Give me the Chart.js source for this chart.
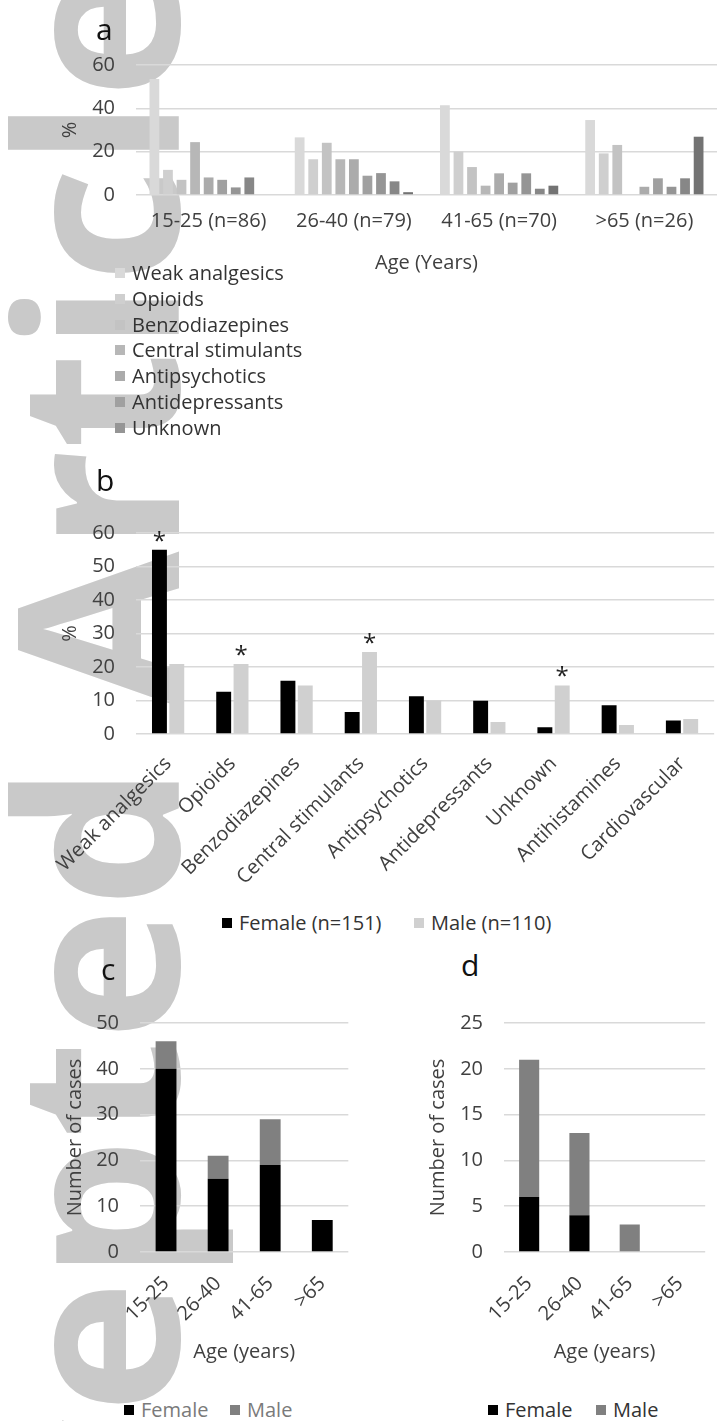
<!DOCTYPE html>
<html>
<head>
<meta charset="utf-8">
<script src="https://cdn.jsdelivr.net/npm/chart.js@4.4.1/dist/chart.umd.min.js"></script>
<style>
  html, body { margin: 0; padding: 0; background: #fff; }
  body { position: relative; width: 717px; height: 1421px; overflow: hidden; font-family: 'Open Sans', sans-serif; }
  .wm { position: absolute; left: -20px; top: 1800px; transform-origin: 0 0; transform: rotate(-90deg);
        font-size: 225px; font-weight: 700; line-height: 1; color: #c9c9c9; white-space: nowrap; z-index: 0; }
  canvas { position: absolute; z-index: 1; }
  .panel { position: absolute; z-index: 2; font-size: 30px; line-height: 30px; color: #111; }
  .leg { position: absolute; z-index: 2; font-size: 20px; line-height: 24px; color: #333; white-space: nowrap; }
  .leg i { position: absolute; left: 0; top: 7px; width: 10px; height: 10px; }
</style>
</head>
<body>
<div class="wm">Accepted Article</div>

<canvas id="chartA" style="left:0;top:0" width="717" height="280"></canvas>
<canvas id="chartB" style="left:0;top:500px" width="717" height="400"></canvas>
<canvas id="chartC" style="left:0;top:990px" width="360" height="380"></canvas>
<canvas id="chartD" style="left:360px;top:990px" width="357" height="380"></canvas>

<div class="panel" style="left:96px;top:14px">a</div>
<div class="panel" style="left:96px;top:465px">b</div>
<div class="panel" style="left:101px;top:954px">c</div>
<div class="panel" style="left:461px;top:950px">d</div>

<script>
// ---- panel a: drug class by age group (%)
const ageGroupsA = ['15-25 (n=86)', '26-40 (n=79)', '41-65 (n=70)', '>65 (n=26)'];
const drugClasses = ['Weak analgesics', 'Opioids', 'Benzodiazepines', 'Central stimulants', 'Antipsychotics',
                     'Antidepressants', 'Unknown', 'Antihistamines', 'Cardiovascular'];
const drugShades = ['#d9d9d9', '#cfcfcf', '#c3c3c3', '#b7b7b7', '#ababab', '#a0a0a0', '#959595', '#878787', '#737373'];
const pct15to25 = [53.5, 11.6, 7.0, 24.4, 8.1, 7.0, 3.5, 8.1, 0];
const pct26to40 = [26.6, 16.5, 24.1, 16.5, 16.5, 8.9, 10.1, 6.3, 1.3];
const pct41to65 = [41.4, 20.0, 12.9, 4.3, 10.0, 5.7, 10.0, 2.9, 4.3];
const pctOver65 = [34.6, 19.2, 23.1, 0, 3.8, 7.7, 3.8, 7.7, 26.9];
const legendCountA = 7; // legend in the figure is cut after "Unknown"

// ---- panel b: drug class by sex (%)
const femaleLabel = 'Female (n=151)';
const maleLabel = 'Male (n=110)';
const femalePct = [55.0, 12.6, 15.9, 6.6, 11.3, 9.9, 2.0, 8.6, 4.0];
const malePct = [20.9, 20.9, 14.5, 24.5, 10.0, 3.6, 14.5, 2.7, 4.5];
const starFemale = [true, false, false, false, false, false, false, false, false];
const starMale = [false, true, false, true, false, false, true, false, false];

// ---- panels c and d: number of cases by age
const ageGroupsCD = ['15-25', '26-40', '41-65', '>65'];
const casesFemaleC = [40, 16, 19, 7];
const casesMaleC = [6, 5, 10, 0];
const casesFemaleD = [6, 4, 0, 0];
const casesMaleD = [15, 9, 3, 0];

const FONT = "'Open Sans', sans-serif";
const TXT = '#404040';
const GRID = '#d9d9d9';
const tickFont = { family: FONT, size: 20 };

function yScale(max, step, width, title, titleGap) {
  return {
    min: 0, max: max,
    ticks: { stepSize: step, padding: 21, color: TXT, font: tickFont },
    grid: { color: GRID, lineWidth: 1.5, drawTicks: false },
    border: { display: false },
    title: { display: true, text: title, color: TXT, font: tickFont, padding: { top: titleGap, bottom: 0 } },
    afterFit: s => { s.width = width; }
  };
}

function xScale(height, tickPad, rotation, title, titleGap) {
  return {
    grid: { display: false, drawTicks: false },
    border: { display: false },
    ticks: { padding: tickPad, color: TXT, font: tickFont, autoSkip: false, minRotation: rotation, maxRotation: rotation },
    title: { display: !!title, text: title, color: TXT, font: tickFont, padding: { top: 0, bottom: titleGap } },
    afterFit: s => { s.height = height; }
  };
}

const baseOptions = {
  responsive: false,
  animation: false,
  plugins: { legend: { display: false }, tooltip: { enabled: false } }
};

// a
const rowsA = [pct15to25, pct26to40, pct41to65, pctOver65];
new Chart(document.getElementById('chartA'), {
  type: 'bar',
  data: {
    labels: ageGroupsA,
    datasets: drugClasses.map((name, i) => ({
      label: name,
      data: rowsA.map(r => r[i]),
      backgroundColor: drugShades[i],
      categoryPercentage: 0.84,
      barPercentage: 0.72
    }))
  },
  options: {
    ...baseOptions,
    layout: { padding: { top: 65, right: 0, left: 0, bottom: 0 } },
    scales: {
      x: xScale(85, 14, 0, 'Age (Years)', 5),
      y: yScale(60, 20, 136, '%', 58)
    }
  }
});

// b
const starPlugin = {
  id: 'stars',
  afterDatasetsDraw(chart) {
    const ctx = chart.ctx;
    [starFemale, starMale].forEach((flags, di) => {
      const meta = chart.getDatasetMeta(di);
      flags.forEach((on, i) => {
        if (!on) return;
        const bar = meta.data[i];
        ctx.save();
        ctx.font = '24px ' + FONT;
        ctx.fillStyle = '#222';
        ctx.textAlign = 'center';
        ctx.textBaseline = 'alphabetic';
        ctx.fillText('*', bar.x, bar.y - 1);
        ctx.restore();
      });
    });
  }
};

new Chart(document.getElementById('chartB'), {
  type: 'bar',
  data: {
    labels: drugClasses,
    datasets: [
      { label: femaleLabel, data: femalePct, backgroundColor: '#000000', categoryPercentage: 0.54, barPercentage: 0.86 },
      { label: maleLabel, data: malePct, backgroundColor: '#d0d0d0', categoryPercentage: 0.54, barPercentage: 0.86 }
    ]
  },
  options: {
    ...baseOptions,
    layout: { padding: { top: 25, right: 0, left: 0, bottom: 0 } },
    scales: {
      x: xScale(166, 18, 45, '', 0),
      y: yScale(60, 10, 136, '%', 58)
    }
  },
  plugins: [starPlugin]
});

// c, d
function stackedChart(id, femaleData, maleData, max, step, yWidth, titleGap, padTop, padRight) {
  new Chart(document.getElementById(id), {
    type: 'bar',
    data: {
      labels: ageGroupsCD,
      datasets: [
        { label: 'Female', data: femaleData, backgroundColor: '#000000', categoryPercentage: 0.5, barPercentage: 0.8 },
        { label: 'Male', data: maleData, backgroundColor: '#808080', categoryPercentage: 0.5, barPercentage: 0.8 }
      ]
    },
    options: {
      ...baseOptions,
      layout: { padding: { top: padTop, right: padRight, left: 0, bottom: 0 } },
      scales: {
        x: { ...xScale(118, 20, 45, 'Age (years)', 6), stacked: true },
        y: { ...yScale(max, step, yWidth, 'Number of cases', titleGap), stacked: true }
      }
    }
  });
}
stackedChart('chartC', casesFemaleC, casesMaleC, 50, 10, 140, 63, 21, 6);
stackedChart('chartD', casesFemaleD, casesMaleD, 25, 5, 144, 66, 22, 0);

// legends (HTML, real text)
function legendItem(x, yCenter, color, text, textColor) {
  const d = document.createElement('div');
  d.className = 'leg';
  d.style.left = x + 'px';
  d.style.top = (yCenter - 12) + 'px';
  d.style.paddingLeft = '17px';
  if (textColor) d.style.color = textColor;
  d.innerHTML = '<i style="background:' + color + '"></i>' + text;
  document.body.appendChild(d);
}
for (let i = 0; i < legendCountA; i++) {
  legendItem(115, 273 + i * 25.8, drugShades[i], drugClasses[i]);
}
legendItem(222, 923, '#000000', femaleLabel);
legendItem(414, 923, '#d0d0d0', maleLabel);
legendItem(124, 1410, '#000000', 'Female', '#7a7a7a');
legendItem(230, 1410, '#808080', 'Male', '#7a7a7a');
legendItem(488, 1410, '#000000', 'Female');
legendItem(596, 1410, '#808080', 'Male');
</script>
</body>
</html>
